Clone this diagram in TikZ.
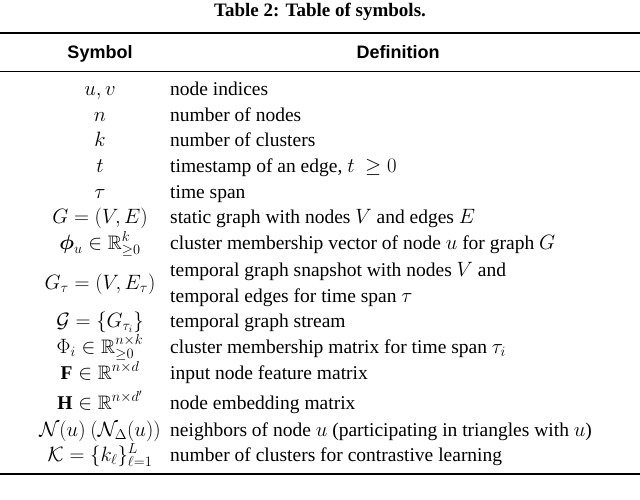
\documentclass[tikz,border=0pt]{standalone}
\usepackage{amsmath,amssymb}
\usepackage{fontspec}
\setmainfont{Liberation Serif}
\newfontfamily\hdfont{Liberation Sans}
\begin{document}
\begin{tikzpicture}[x=1pt,y=-1pt,
  sym/.style={anchor=base,font=\fontsize{19.5}{21}\selectfont,inner sep=0},
  def/.style={anchor=base west,font=\fontsize{19.5}{21}\selectfont,inner sep=0},
  hd/.style={anchor=base,font=\hdfont\bfseries\fontsize{18}{20}\selectfont,inner sep=0},
  ttl/.style={anchor=base,font=\bfseries\fontsize{19}{21}\selectfont,inner sep=0}]
\useasboundingbox (0,0) rectangle (640,500);
\node[ttl] (title) at (320,17) {Table 2: Table of symbols.};
\draw[line width=1.2pt] (0,33) -- (640,33);
\node[hd] (hs) at (100,59) {Symbol};
\node[hd] (hdf) at (398,59) {Definition};
\draw[line width=0.6pt] (0,71) -- (640,71);
\node[sym] (s1) at (100,96) {$u,v$};
\node[def] (d1) at (170,96) {node indices};
\node[sym] (s2) at (100,122) {$n$};
\node[def] (d2) at (170,122) {number of nodes};
\node[sym] (s3) at (100,147) {$k$};
\node[def] (d3) at (170,147) {number of clusters};
\node[sym] (s4) at (100,172) {$t$};
\node[def] (d4) at (170,172) {timestamp of an edge, $t\ \geq 0$};
\node[sym] (s5) at (100,198) {$\tau$};
\node[def] (d5) at (170,198) {time span};
\node[sym] (s6) at (100,223) {$G=(V,E)$};
\node[def] (d6) at (170,223) {static graph with nodes $V$ and edges $E$};
\node[sym] (s7) at (100,249) {$\boldsymbol{\phi}_u\in\mathbb{R}^k_{\geq 0}$};
\node[def] (d7) at (170,249) {cluster membership vector of node $u$ for graph $G$};
\node[sym] (s8) at (100,289) {$G_\tau=(V,E_\tau)$};
\node[def] (d8a) at (170,276) {temporal graph snapshot with nodes $V$ and};
\node[def] (d8b) at (170,302) {temporal edges for time span $\tau$};
\node[sym] (s9) at (100,327) {$\mathcal{G}=\{G_{\tau_i}\}$};
\node[def] (d9) at (170,327) {temporal graph stream};
\node[sym] (s10) at (100,353) {$\Phi_i\in\mathbb{R}^{n\times k}_{\geq 0}$};
\node[def] (d10) at (170,353) {cluster membership matrix for time span $\tau_i$};
\node[sym] (s11) at (100,379) {$\mathbf{F}\in\mathbb{R}^{n\times d}$};
\node[def] (d11) at (170,379) {input node feature matrix};
\node[sym] (s12) at (100,409) {$\mathbf{H}\in\mathbb{R}^{n\times d'}$};
\node[def] (d12) at (170,409) {node embedding matrix};
\node[sym] (s13) at (100,436) {$\mathcal{N}(u)\ (\mathcal{N}_\Delta(u))$};
\node[def] (d13) at (170,436) {neighbors of node $u$ (participating in triangles with $u$)};
\node[sym] (s14) at (100,461) {$\mathcal{K}=\{k_\ell\}_{\ell=1}^L$};
\node[def] (d14) at (170,461) {number of clusters for contrastive learning};
\draw[line width=1.2pt] (0,474) -- (640,474);
\end{tikzpicture}
\end{document}
